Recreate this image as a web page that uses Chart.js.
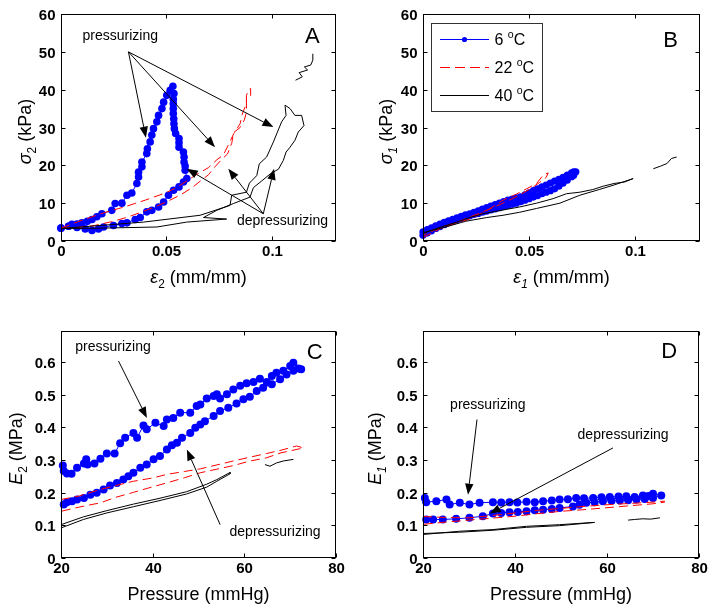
<!DOCTYPE html>
<html><head><meta charset="utf-8">
<script src="https://cdn.jsdelivr.net/npm/chart.js@4.4.1/dist/chart.umd.min.js"></script>
<style>
html,body{margin:0;padding:0;background:#fff;}
#wrap{position:relative;width:714px;height:615px;background:#fff;}
canvas{position:absolute;}
</style></head><body>
<div id="wrap">
<canvas id="cA" width="357" height="307" style="left:0;top:0"></canvas>
<canvas id="cB" width="357" height="307" style="left:357px;top:0"></canvas>
<canvas id="cC" width="357" height="308" style="left:0;top:307px"></canvas>
<canvas id="cD" width="357" height="308" style="left:357px;top:307px"></canvas>
</div>
<script>
// ===== Panel A: sigma2 (kPa) vs eps2 (mm/mm) =====
const aBlue6 = [[0,3.4],[0.0036,3.9],[0.0052,4.4],[0.0076,4.5],[0.0099,4.8],[0.0125,5.2],[0.0147,5.7],[0.017,6.4],[0.0194,7.2],[0.0241,8.1],[0.0257,9.9],[0.0289,10.0],[0.0313,12.1],[0.0336,12.7],[0.036,15.2],[0.0368,16.9],[0.0368,18.2],[0.0384,19.6],[0.0384,20.9],[0.0407,23.1],[0.041,24.4],[0.0423,26.2],[0.0431,28.0],[0.0439,29.7],[0.0455,31.5],[0.0463,33.2],[0.0479,35.0],[0.0487,36.7],[0.0502,38.5],[0.0518,39.8],[0.0531,40.9],[0.0536,39.0],[0.0533,37.5],[0.0533,36.3],[0.0533,35.0],[0.0533,33.7],[0.0535,32.3],[0.0536,31.0],[0.0538,29.7],[0.0544,28.4],[0.056,27.1],[0.056,26.0],[0.056,24.8],[0.0581,23.5],[0.0584,22.2],[0.0584,20.9],[0.0589,19.8],[0.0589,18.7],[0.0597,16.5],[0.0581,15.6],[0.056,14.3],[0.0534,13.4],[0.051,12.1],[0.0487,10.3],[0.0463,9.0],[0.0431,8.1],[0.0407,7.7],[0.0376,6.2],[0.0352,5.7],[0.0313,4.8],[0.0289,4.6],[0.0249,4.1],[0.0202,3.7],[0.0178,3.2],[0.0147,2.8],[0.0115,3.2],[0.0076,3.6],[0.0036,3.9],[0,3.4]];
const aRed22 = [[0,3.4],[0.01,5.5],[0.02,7.4],[0.03,9.0],[0.04,10.8],[0.05,12.8],[0.055,14.2],[0.06,16.0],[0.065,17.8],[0.07,19.4],[0.074,21.5],[0.077,22.7],[0.079,24.9],[0.082,28.4],[0.085,31.0],[0.086,33.5],[0.088,36.4],[0.088,38.5],[0.089,40.0],[0.09,40.3],[0.09,38.5],[0.088,37.5],[0.088,34.0],[0.087,32.0],[0.085,30.0],[0.082,28.7],[0.081,25.8],[0.079,23.0],[0.076,21.4],[0.073,19.6],[0.07,17.5],[0.066,15.8],[0.062,14.0],[0.057,12.3],[0.05,10.3],[0.044,8.9],[0.038,7.6],[0.031,6.2],[0.024,5.1],[0.016,4.1],[0.008,3.6],[0,3.4]];
const aBlack40 = [[0,3.3],[0.0392,5.0],[0.066,6.8],[0.0802,9.4],[0.081,12.1],[0.088,12.9],[0.0894,15.3],[0.0929,17.3],[0.0941,20.4],[0.0976,22.2],[0.1008,26.2],[0.1027,28.8],[0.1047,31.5],[0.1068,33.2],[0.1063,35.9],[0.1087,35.0],[0.111,33.2],[0.1142,33.2],[0.1153,30.5],[0.1126,28.8],[0.111,26.6],[0.1087,24.8],[0.1068,23.5],[0.1055,21.3],[0.1032,19.0],[0.0992,17.7],[0.0953,15.9],[0.0913,14.1],[0.0897,11.6],[0.0818,9.9],[0.0739,8.1],[0.0676,6.2],[0.0786,5.8],[0.0597,5.0],[0.0455,3.7],[0.0186,3.4],[0,3.3]];
const aBlack40b = [[0.1113,42.5],[0.1145,43.4],[0.113,44.5],[0.117,45.2],[0.1155,46.0],[0.1185,46.5],[0.1195,47.8],[0.1195,49.5]];

// ===== Panel B: sigma1 (kPa) vs eps1 (mm/mm) =====
const bBlue6 = [[0,2.4],[0.002,3.0],[0.004,3.5],[0.006,4.0],[0.008,4.5],[0.010,4.9],[0.012,5.3],[0.014,5.7],[0.016,6.1],[0.018,6.5],[0.020,6.9],[0.022,7.2],[0.024,7.6],[0.026,8.0],[0.028,8.4],[0.030,8.8],[0.032,9.2],[0.034,9.6],[0.036,10.0],[0.038,10.4],[0.040,10.8],[0.042,11.1],[0.044,11.4],[0.046,11.7],[0.048,12.2],[0.050,12.7],[0.052,13.3],[0.054,13.8],[0.056,14.3],[0.058,14.8],[0.060,15.3],[0.062,15.8],[0.064,16.3],[0.066,16.8],[0.068,17.4],[0.070,18.0],[0.071,18.3],[0.072,18.3],[0.071,17.4],[0.070,17.0],[0.068,16.1],[0.066,15.3],[0.064,14.5],[0.062,13.8],[0.060,13.3],[0.058,12.9],[0.056,12.5],[0.054,12.0],[0.052,11.6],[0.050,11.2],[0.048,10.8],[0.046,10.4],[0.044,10.0],[0.042,9.7],[0.040,9.4],[0.038,9.1],[0.036,8.8],[0.034,8.5],[0.032,8.2],[0.030,7.9],[0.028,7.6],[0.026,7.3],[0.024,7.0],[0.022,6.7],[0.020,6.3],[0.018,6.0],[0.016,5.6],[0.014,5.2],[0.012,4.8],[0.010,4.3],[0.008,3.8],[0.006,3.3],[0.004,2.7],[0.002,2.1],[0,1.5]];
const bRed22 = [[0,0.9],[0.008,3.2],[0.015,4.6],[0.022,5.8],[0.03,8.0],[0.0377,10.8],[0.044,12.4],[0.0488,13.8],[0.0535,15.2],[0.0566,17.4],[0.059,18.0],[0.058,16.8],[0.055,15.5],[0.05,13.6],[0.045,12.0],[0.04,10.6],[0.033,8.8],[0.025,7.0],[0.017,5.2],[0.008,3.5],[0,1.5]];
const bBlack40 = [[0,2.0],[0.008,3.6],[0.016,5.0],[0.022,6.2],[0.0283,7.2],[0.0377,8.2],[0.0456,9.0],[0.0535,10.0],[0.0613,11.2],[0.0676,12.5],[0.0739,12.9],[0.08,13.6],[0.085,14.5],[0.09,15.2],[0.095,15.6],[0.099,16.5],[0.09,14.8],[0.083,13.6],[0.0739,12.1],[0.0645,10.0],[0.0535,8.6],[0.0456,7.6],[0.0377,6.8],[0.03,6.2],[0.02,5.2],[0.01,3.6],[0,2.2]];
const bBlack40b = [[0.1085,19.1],[0.112,19.8],[0.115,20.5],[0.117,21.8],[0.1195,22.2]];

// ===== Panel C: E2 (MPa) vs pressure (mmHg) =====
const cBlue6 = [[20.4,0.283],[20.6,0.266],[21.3,0.259],[22.3,0.258],[23.5,0.276],[25,0.289],[25.5,0.302],[25.8,0.286],[27.3,0.289],[28.6,0.304],[30,0.32],[31.7,0.32],[32.9,0.351],[34,0.368],[35.8,0.383],[36.6,0.368],[38,0.406],[38.7,0.394],[40.6,0.414],[42.4,0.404],[43.1,0.424],[44.5,0.429],[46,0.445],[48.2,0.445],[49.6,0.465],[50.4,0.47],[51.8,0.488],[53.3,0.496],[54,0.501],[54.7,0.488],[56.2,0.501],[57.6,0.516],[59.1,0.527],[60.5,0.535],[62,0.539],[63.4,0.549],[64.9,0.539],[66,0.557],[67,0.567],[68.5,0.573],[70,0.588],[70.7,0.598],[71.8,0.58],[72.4,0.578],[70.7,0.573],[69.2,0.562],[67.8,0.547],[66,0.532],[64.1,0.521],[62.7,0.511],[61.2,0.494],[59.8,0.486],[58.3,0.473],[56.5,0.46],[54.7,0.45],[53.3,0.435],[51.4,0.419],[50.4,0.409],[49.3,0.399],[48.2,0.383],[46.4,0.368],[45.3,0.353],[44.2,0.345],[43.1,0.332],[41.6,0.312],[40.2,0.302],[38.7,0.286],[37.3,0.276],[35.8,0.261],[34.7,0.25],[33.6,0.24],[32.2,0.23],[30.7,0.222],[29.3,0.21],[27.8,0.2],[26.4,0.194],[25,0.184],[23.5,0.179],[22.4,0.174],[21.3,0.171],[20.6,0.164]];
const cRed22 = [[20,0.179],[24,0.19],[28.6,0.21],[32,0.222],[35.8,0.235],[40,0.245],[43.1,0.256],[47,0.265],[50.4,0.273],[54,0.285],[57.6,0.297],[61,0.308],[64.9,0.32],[68,0.33],[71.4,0.343],[72.9,0.337],[68,0.322],[64.9,0.307],[61,0.296],[57.6,0.283],[54,0.272],[50.4,0.261],[47,0.246],[43.1,0.23],[40,0.218],[35.8,0.201],[32,0.186],[28.6,0.169],[24,0.156],[20,0.143]];
const cBlack40 = [[20,0.102],[24.9,0.126],[30,0.145],[35.8,0.165],[41.6,0.183],[47.4,0.203],[51.8,0.226],[54,0.24],[56.9,0.262],[56.9,0.258],[54,0.235],[51.8,0.217],[47.4,0.196],[41.6,0.176],[35.8,0.157],[30,0.138],[24.9,0.118],[20,0.092]];
const cBlack40b = [[64.5,0.286],[65.6,0.281],[67,0.291],[68.5,0.297],[70.7,0.302]];

// ===== Panel D: E1 (MPa) vs pressure (mmHg) =====
const dBlue6 = [[20.4,0.184],[20.7,0.171],[22.9,0.174],[25.1,0.179],[25.8,0.164],[28,0.169],[30.1,0.164],[32.3,0.169],[35.2,0.171],[37,0.17],[38.8,0.171],[40.5,0.17],[42.5,0.172],[44.3,0.171],[46.1,0.174],[48,0.176],[49.7,0.179],[51.5,0.18],[53.3,0.184],[55,0.183],[57,0.184],[58.8,0.186],[60.6,0.187],[62.5,0.188],[64.2,0.189],[66,0.187],[67.8,0.191],[69,0.19],[70,0.197],[71.8,0.191],[70,0.184],[68.2,0.181],[66.4,0.179],[64.6,0.177],[62.8,0.176],[61,0.175],[59.1,0.174],[57.3,0.171],[55.5,0.169],[54,0.163],[52.6,0.158],[49.7,0.153],[48,0.15],[46.1,0.148],[44.3,0.146],[42.5,0.143],[40.6,0.141],[38.8,0.14],[37,0.138],[35.2,0.136],[33,0.128],[30.1,0.123],[27.2,0.12],[24.3,0.118],[22.2,0.118],[20.7,0.118]];
const dRed22 = [[20,0.127],[25,0.124],[30,0.123],[35,0.13],[40,0.138],[45,0.146],[50,0.152],[55,0.158],[60,0.163],[65,0.167],[70,0.171],[72.5,0.174],[72.5,0.171],[70,0.166],[65,0.16],[60,0.154],[55,0.148],[50,0.143],[45,0.136],[40,0.128],[35,0.122],[30,0.116],[25,0.11],[20,0.103]];
const dBlack40 = [[20,0.072],[28,0.082],[35.2,0.087],[42.5,0.097],[49.7,0.102],[57.3,0.109],[49.7,0.099],[42.5,0.094],[35.2,0.085],[28,0.079],[20,0.075]];
const dBlack40b = [[64.6,0.116],[66,0.118],[67.8,0.12],[69.5,0.119],[71.5,0.123]];

// ===== Axes / ticks / labels =====
const strainTicks = [0, 0.05, 0.1];
const strainTickLabels = ['0', '0.05', '0.1'];
const stressTicks = [0, 10, 20, 30, 40, 50, 60];
const stressTickLabels = ['0', '10', '20', '30', '40', '50', '60'];
const pressureTicks = [20, 40, 60, 80];
const pressureTickLabels = ['20', '40', '60', '80'];
const modulusTicks = [0, 0.1, 0.2, 0.3, 0.4, 0.5, 0.6];
const modulusTickLabels = ['0', '0.1', '0.2', '0.3', '0.4', '0.5', '0.6'];
const legendTemps = ['6', '22', '40'];
const seriesColors = ['#0000ff', '#ff0000', '#000000'];

const FONT = '"Liberation Sans", Arial, Helvetica, sans-serif';

function richWidth(ctx, parts, size) {
  let w = 0;
  for (const p of parts) {
    const fs = (p.sub || p.sup) ? size * 0.66 : size;
    ctx.font = (p.italic ? 'italic ' : '') + fs + 'px ' + FONT;
    w += ctx.measureText(p.t).width;
  }
  return w;
}
function drawRich(ctx, parts, size, x0) {
  let x = x0;
  for (const p of parts) {
    const fs = (p.sub || p.sup) ? size * 0.66 : size;
    ctx.font = (p.italic ? 'italic ' : '') + fs + 'px ' + FONT;
    const dy = p.sub ? size * 0.28 : (p.sup ? -size * 0.45 : 0);
    ctx.fillText(p.t, x, dy);
    x += ctx.measureText(p.t).width;
  }
}
function drawArrow(ctx, x0, y0, x1, y1) {
  const a = Math.atan2(y1 - y0, x1 - x0), L = 11, W = 4.2;
  const bx = x1 - L * Math.cos(a), by = y1 - L * Math.sin(a);
  ctx.beginPath(); ctx.moveTo(x0, y0); ctx.lineTo(bx, by); ctx.stroke();
  ctx.beginPath(); ctx.moveTo(x1, y1);
  ctx.lineTo(bx + W * Math.sin(a), by - W * Math.cos(a));
  ctx.lineTo(bx - W * Math.sin(a), by + W * Math.cos(a));
  ctx.closePath(); ctx.fill();
}

const framePlugin = {
  id: 'frame',
  afterDraw(chart) {
    const o = chart.options.plugins.frame;
    const ctx = chart.ctx, ca = chart.chartArea;
    const xs = chart.scales.x, ys = chart.scales.y;
    const L = Math.round(ca.left) + 0.5, R = Math.round(ca.right) - 0.5;
    const T = Math.round(ca.top) + 0.5, B = Math.round(ca.bottom) - 0.5;
    ctx.save();
    ctx.strokeStyle = '#000'; ctx.fillStyle = '#000'; ctx.lineWidth = 1; ctx.setLineDash([]);
    ctx.strokeRect(L, T, R - L, B - T);
    ctx.font = 'bold 15px ' + FONT;
    o.xTicks.forEach((v, i) => {
      const px = Math.round(xs.getPixelForValue(v)) + 0.5;
      ctx.beginPath(); ctx.moveTo(px, B); ctx.lineTo(px, B - 4); ctx.moveTo(px, T); ctx.lineTo(px, T + 4); ctx.stroke();
      ctx.textAlign = 'center'; ctx.textBaseline = 'alphabetic';
      ctx.fillText(o.xLabels[i], px, B + 15);
    });
    o.yTicks.forEach((v, i) => {
      const py = Math.round(ys.getPixelForValue(v)) + 0.5;
      ctx.beginPath(); ctx.moveTo(L, py); ctx.lineTo(L + 4, py); ctx.moveTo(R, py); ctx.lineTo(R - 4, py); ctx.stroke();
      ctx.textAlign = 'right'; ctx.textBaseline = 'alphabetic';
      ctx.fillText(o.yLabels[i], L - 6, py + 5.5);
    });
    ctx.textAlign = 'left'; ctx.textBaseline = 'alphabetic';
    const xw = richWidth(ctx, o.xTitle, 18);
    ctx.save(); ctx.translate((ca.left + ca.right) / 2 - xw / 2, ca.bottom + 42);
    drawRich(ctx, o.xTitle, 18, 0); ctx.restore();
    const yw = richWidth(ctx, o.yTitle, 18);
    ctx.save(); ctx.translate(ca.left - o.yTitleOff, (ca.top + ca.bottom) / 2 + 4); ctx.rotate(-Math.PI / 2);
    drawRich(ctx, o.yTitle, 18, -yw / 2); ctx.restore();
    ctx.font = '22px ' + FONT; ctx.textAlign = 'left';
    ctx.fillText(o.letter.t, xs.getPixelForValue(o.letter.x), ys.getPixelForValue(o.letter.y));
    ctx.font = '14px ' + FONT; ctx.textAlign = 'center';
    (o.notes || []).forEach(n => {
      ctx.fillText(n.t, xs.getPixelForValue(n.x), ys.getPixelForValue(n.y));
      n.arrows.forEach(a => {
        drawArrow(ctx, xs.getPixelForValue(n.from[0]), ys.getPixelForValue(n.from[1]),
                  xs.getPixelForValue(a[0]), ys.getPixelForValue(a[1]));
      });
    });
    if (o.legend) {
      const lx = ca.left + 7.5, ly = ca.top + 8.5, lw = 111, lh = 88;
      ctx.fillStyle = '#fff'; ctx.fillRect(lx, ly, lw, lh);
      ctx.strokeStyle = '#333'; ctx.strokeRect(Math.round(lx) + 0.5, Math.round(ly) + 0.5, lw, lh);
      legendTemps.forEach((t, i) => {
        const yy = Math.round(ly + 16 + i * 28) + 0.5;
        ctx.strokeStyle = seriesColors[i]; ctx.lineWidth = 1;
        ctx.setLineDash(i === 1 ? [10, 5] : []);
        ctx.beginPath(); ctx.moveTo(lx + 9.5, yy); ctx.lineTo(lx + 58.5, yy); ctx.stroke();
        ctx.setLineDash([]);
        if (i === 0) { ctx.fillStyle = seriesColors[0]; ctx.beginPath(); ctx.arc(lx + 34, yy, 2.6, 0, 2 * Math.PI); ctx.fill(); }
        ctx.fillStyle = '#000'; ctx.textAlign = 'left';
        ctx.save(); ctx.translate(0, yy + 5.5);
        drawRich(ctx, [{t: t + ' '}, {t: 'o', sup: true}, {t: 'C'}], 16, lx + 64);
        ctx.restore();
      });
    }
    ctx.restore();
  }
};

const toXY = arr => arr.map(p => ({x: p[0], y: p[1]}));

function makePanel(id, cfg) {
  const ds = [
    {data: toXY(cfg.blue), borderColor: seriesColors[0], backgroundColor: seriesColors[0], borderWidth: 1,
     pointRadius: cfg.mr, pointBorderWidth: 0, pointBackgroundColor: seriesColors[0], order: 3, clip: false},
    {data: toXY(cfg.red), borderColor: seriesColors[1], borderWidth: 1, borderDash: [9, 5], pointRadius: 0, order: 2},
    {data: toXY(cfg.black), borderColor: seriesColors[2], borderWidth: 1, pointRadius: 0, order: 1},
    {data: toXY(cfg.black2), borderColor: seriesColors[2], borderWidth: 1, pointRadius: 0, order: 1}
  ];
  ds.forEach(d => { d.showLine = true; d.tension = 0; d.fill = false; });
  return new Chart(document.getElementById(id), {
    type: 'line',
    data: {datasets: ds},
    options: {
      responsive: false, animation: false, devicePixelRatio: 1, events: [],
      layout: {padding: {left: 0, right: cfg.padR, top: cfg.padT, bottom: 0}},
      scales: {
        x: {type: 'linear', min: cfg.xMin, max: cfg.xMax,
            afterBuildTicks: s => { s.ticks = cfg.xTicks.map(v => ({value: v})); },
            afterFit: s => { s.height = cfg.xH; },
            ticks: {display: false}, grid: {display: false}, border: {display: false}},
        y: {type: 'linear', min: cfg.yMin, max: cfg.yMax,
            afterBuildTicks: s => { s.ticks = cfg.yTicks.map(v => ({value: v})); },
            afterFit: s => { s.width = cfg.yW; },
            ticks: {display: false}, grid: {display: false}, border: {display: false}}
      },
      plugins: {
        legend: {display: false}, tooltip: {enabled: false},
        frame: {
          xTicks: cfg.xTicks, xLabels: cfg.xLabels, yTicks: cfg.yTicks, yLabels: cfg.yLabels,
          xTitle: cfg.xTitle, yTitle: cfg.yTitle, yTitleOff: cfg.yTitleOff,
          letter: cfg.letter, notes: cfg.notes, legend: cfg.legend
        }
      }
    },
    plugins: [framePlugin]
  });
}

makePanel('cA', {
  blue: aBlue6, red: aRed22, black: aBlack40, black2: aBlack40b, mr: 3.8,
  xMin: 0, xMax: 0.1305, yMin: 0, yMax: 60, xTicks: strainTicks, xLabels: strainTickLabels,
  yTicks: stressTicks, yLabels: stressTickLabels, yW: 61, xH: 66, padR: 21, padT: 14,
  xTitle: [{t: 'ε', italic: true}, {t: '2', sub: true}, {t: ' (mm/mm)'}],
  yTitle: [{t: 'σ', italic: true}, {t: '2', sub: true}, {t: ' (kPa)'}], yTitleOff: 30,
  letter: {t: 'A', x: 0.1158, y: 52.3},
  notes: [
    {t: 'pressurizing', x: 0.0281, y: 53.0, from: [0.032, 50], arrows: [[0.0403, 27.3], [0.0731, 24.8], [0.1008, 30.1]]},
    {t: 'depressurizing', x: 0.1051, y: 4.3, from: [0.096, 7.2], arrows: [[0.0597, 19.1], [0.0794, 19.1], [0.1011, 19.1]]}
  ]
});
makePanel('cB', {
  blue: bBlue6, red: bRed22, black: bBlack40, black2: bBlack40b, mr: 3.6,
  xMin: 0, xMax: 0.1305, yMin: 0, yMax: 60, xTicks: strainTicks, xLabels: strainTickLabels,
  yTicks: stressTicks, yLabels: stressTickLabels, yW: 66, xH: 66, padR: 14, padT: 14,
  xTitle: [{t: 'ε', italic: true}, {t: '1', sub: true, italic: true}, {t: ' (mm/mm)'}],
  yTitle: [{t: 'σ', italic: true}, {t: '1', sub: true, italic: true}, {t: ' (kPa)'}], yTitleOff: 31,
  letter: {t: 'B', x: 0.1132, y: 51.3}, notes: [], legend: true
});
makePanel('cC', {
  blue: cBlue6, red: cRed22, black: cBlack40, black2: cBlack40b, mr: 4,
  xMin: 20, xMax: 80, yMin: 0, yMax: 0.695, xTicks: pressureTicks, xLabels: pressureTickLabels,
  yTicks: modulusTicks, yLabels: modulusTickLabels, yW: 61, xH: 57, padR: 21, padT: 24,
  xTitle: [{t: 'Pressure (mmHg)'}],
  yTitle: [{t: 'E', italic: true}, {t: '2', sub: true}, {t: ' (MPa)'}], yTitleOff: 39,
  letter: {t: 'C', x: 73.6, y: 0.608},
  notes: [
    {t: 'pressurizing', x: 31.36, y: 0.634, from: [32.55, 0.603], arrows: [[38.74, 0.429]]},
    {t: 'depressurizing', x: 66.7, y: 0.066, from: [54.72, 0.102], arrows: [[47.46, 0.332]]}
  ]
});
makePanel('cD', {
  blue: dBlue6, red: dRed22, black: dBlack40, black2: dBlack40b, mr: 4,
  xMin: 20, xMax: 80, yMin: 0, yMax: 0.695, xTicks: pressureTicks, xLabels: pressureTickLabels,
  yTicks: modulusTicks, yLabels: modulusTickLabels, yW: 66, xH: 57, padR: 15, padT: 24,
  xTitle: [{t: 'Pressure (mmHg)'}],
  yTitle: [{t: 'E', italic: true}, {t: '1', sub: true, italic: true}, {t: ' (MPa)'}], yTitleOff: 42,
  letter: {t: 'D', x: 71.8, y: 0.613},
  notes: [
    {t: 'pressurizing', x: 34.1, y: 0.455, from: [31.74, 0.424], arrows: [[29.78, 0.194]]},
    {t: 'depressurizing', x: 63.5, y: 0.365, from: [61.3, 0.337], arrows: [[34.5, 0.136]]}
  ]
});
</script>
</body></html>
